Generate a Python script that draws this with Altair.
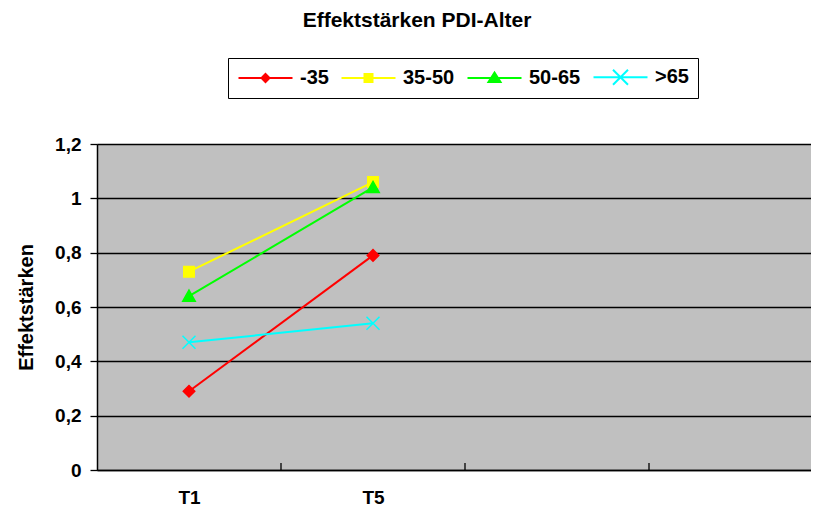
import altair as alt
import pandas as pd

# ---- data ----
groups = ["-35", "35-50", "50-65", ">65"]
times = ["T1", "T5"]
vals_m35 = [0.29, 0.79]
vals_35_50 = [0.73, 1.06]
vals_50_65 = [0.64, 1.04]
vals_65p = [0.47, 0.54]
series = [vals_m35, vals_35_50, vals_50_65, vals_65p]
colors = ["#FF0000", "#FFFF00", "#00FF00", "#00FFFF"]
y_ticks = [0, 0.2, 0.4, 0.6, 0.8, 1.0, 1.2]
x_slot_ticks = [1, 2, 3]

rows = []
for g, vals in zip(groups, series):
    for i, (t, v) in enumerate(zip(times, vals)):
        rows.append({"grp": g, "time": t, "pos": i + 0.5, "value": v})
df = pd.DataFrame(rows)
ticks_df = pd.DataFrame({"pos": x_slot_ticks})

# marker shapes in the plot
plot_shapes = [
    "M0,-1.15L1.15,0L0,1.15L-1.15,0Z",
    "M-1.05,-1.05H1.05V1.05H-1.05Z",
    "M0,-1.2L1.25,1L-1.25,1Z",
    "M-1.3,-1.3L1.3,1.3M-1.3,1.3L1.3,-1.3",
]
# legend symbols: line segment + marker
legend_shapes = [
    "M-5.4,0H5.4M0,-0.8L0.8,0L0,0.8L-0.8,0Z",
    "M-5.4,0H5.4M-0.8,-0.8H0.8V0.8H-0.8Z",
    "M-5.4,0H5.4M0,-1.1L1.2,0.8L-1.2,0.8Z",
    "M-5.4,0H5.4M-1.5,-1.5L1.5,1.5M-1.5,1.5L1.5,-1.5",
]

FONT = "Liberation Sans"
PLOT_W = 714
X_MAX = PLOT_W / 184.0

label_expr = " : ".join(
    [f"datum.value == {i + 0.5} ? '{t}'" for i, t in enumerate(times)]
) + " : ''"

x_enc = alt.X(
    "pos:Q",
    scale=alt.Scale(domain=[0, X_MAX], nice=False, zero=False),
    axis=alt.Axis(
        title=None,
        values=[i + 0.5 for i in range(len(times))],
        labelExpr=label_expr,
        labelOverlap=False,
        labelFlush=False,
        grid=False,
        ticks=False,
        labelPadding=18,
        labelFont=FONT,
        labelFontSize=19,
        labelFontWeight="bold",
        labelColor="black",
        domainColor="black",
        domainWidth=1.5,
    ),
)

y_enc = alt.Y(
    "value:Q",
    scale=alt.Scale(domain=[0, 1.2], nice=False),
    axis=alt.Axis(
        title="Effektstärken",
        titleFont=FONT,
        titleFontSize=20,
        titleFontWeight="bold",
        titleColor="black",
        titlePadding=18,
        values=y_ticks,
        labelExpr="replace(format(datum.value, '.1~f'), '.', ',')",
        labelFont=FONT,
        labelFontSize=19,
        labelFontWeight="bold",
        labelColor="black",
        labelPadding=9,
        tickSize=7,
        tickColor="black",
        tickWidth=1.3,
        domainColor="black",
        domainWidth=1.5,
        grid=True,
        gridColor="black",
        gridWidth=1.3,
    ),
)

color_scale = alt.Scale(domain=groups, range=colors)

legend = alt.Legend(
    title=None,
    orient="none",
    legendX=131,
    legendY=-86,
    direction="horizontal",
    columns=len(groups),
    labelFont=FONT,
    labelFontSize=20,
    labelFontWeight="bold",
    labelColor="black",
    symbolSize=100,
    symbolStrokeWidth=2,
    symbolOffset=18.5,
    labelOffset=24.5,
    columnPadding=8,
    padding=9,
    strokeColor="black",
    fillColor="white",
)

lines = alt.Chart(df).mark_line(strokeWidth=2).encode(
    x=x_enc,
    y=y_enc,
    color=alt.Color("grp:N", scale=color_scale, legend=None),
)

points = alt.Chart(df).mark_point(filled=True, opacity=1, size=100, strokeWidth=1.5).encode(
    x=x_enc,
    y=y_enc,
    fill=alt.Fill("grp:N", scale=color_scale, legend=None),
    stroke=alt.Stroke("grp:N", scale=color_scale, legend=None),
    shape=alt.Shape("grp:N", scale=alt.Scale(domain=groups, range=plot_shapes), legend=None),
)

# legend-only layer (no marks drawn, explicit domains give the entries)
legend_layer = (
    alt.Chart(df)
    .transform_filter("false")
    .transform_calculate(lg="datum.grp")
    .mark_point(filled=True, opacity=1, size=100, strokeWidth=2)
    .encode(
        x=x_enc,
        y=y_enc,
        fill=alt.Fill("lg:N", scale=color_scale, legend=legend),
        stroke=alt.Stroke("lg:N", scale=color_scale, legend=legend),
        shape=alt.Shape("lg:N", scale=alt.Scale(domain=groups, range=legend_shapes), legend=legend),
    )
)

# inward x ticks at the category boundaries
x_ticks = alt.Chart(ticks_df).mark_rule(color="black", strokeWidth=1.3).encode(
    x=x_enc,
    y=alt.Y(datum=0, scale=alt.Scale(domain=[0, 1.2], nice=False)),
    y2=alt.Y2(datum=0.026),
)

chart = (
    alt.layer(lines, points, legend_layer, x_ticks)
    .resolve_scale(shape="independent", fill="independent", stroke="independent")
    .properties(
        width=PLOT_W,
        height=326,
        title=alt.TitleParams(
            text="Effektstärken PDI-Alter",
            font=FONT,
            fontSize=21,
            fontWeight="bold",
            color="black",
            anchor="middle",
            dx=-37,
            dy=-23,
        ),
        autosize=alt.AutoSizeParams(type="none"),
        padding={"left": 89, "top": 136, "right": 0, "bottom": 41},
        background="white",
    )
    .configure_view(fill="#C0C0C0", stroke="#808080", strokeWidth=1)
)

chart.save("out.html", embed_options={"renderer": "svg", "actions": False})
